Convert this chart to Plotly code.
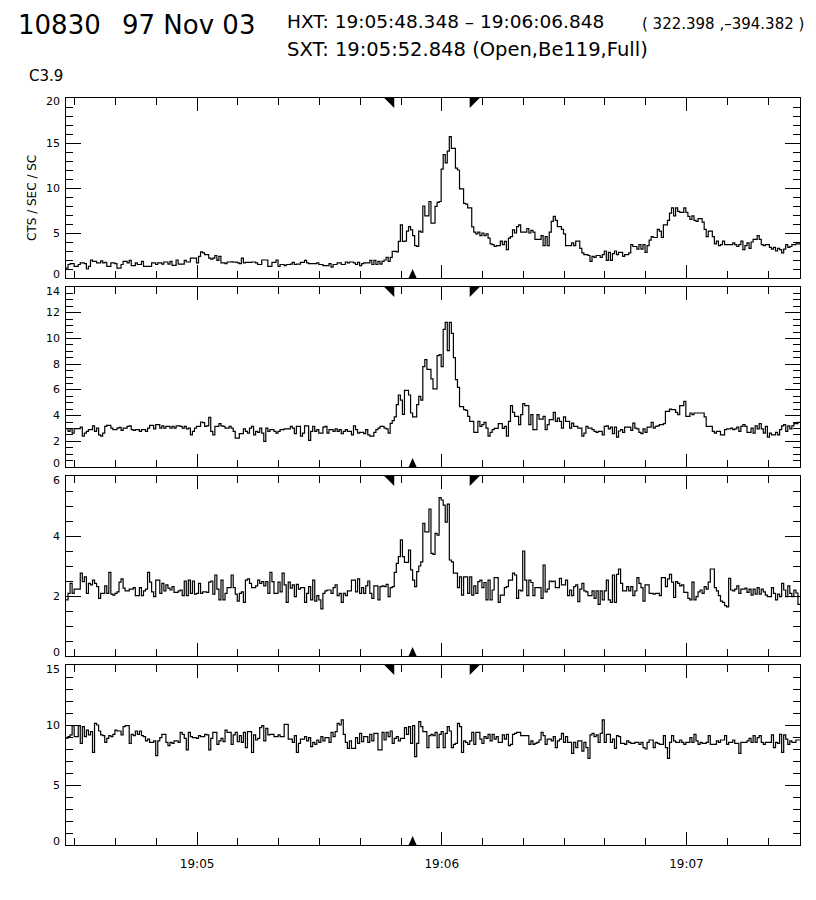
import plotly.graph_objects as go
import pandas as pd

# ---------------- data ----------------
START = "1997-11-03 19:04:27.848"
N_BINS = 360
BIN_MS = 500
HXT_START = "1997-11-03 19:05:48.348"
HXT_END = "1997-11-03 19:06:06.848"
SXT_TIME = "1997-11-03 19:05:52.848"

band1 = [
    1.1, 1.5, 1.6, 1.6, 1.3, 1.3, 1.5, 1.67, 1.67, 1.6,
    1.0, 1.3, 2.0, 1.85, 1.85, 1.67, 1.67, 1.9, 1.67, 1.75,
    1.3, 1.3, 1.67, 1.67, 1.6, 1.1, 1.1, 1.5, 1.85, 1.85,
    1.67, 1.96, 1.37, 1.37, 1.67, 1.5, 1.5, 1.85, 1.3, 1.3,
    1.3, 1.3, 1.67, 1.67, 1.5, 1.67, 1.67, 1.55, 1.78, 1.78,
    1.55, 1.85, 1.4, 1.4, 2.0, 1.55, 1.55, 1.55, 1.96, 1.78,
    1.78, 2.2, 2.2, 2.2, 1.67, 2.4, 2.9, 2.8, 2.6, 2.6,
    2.2, 2.1, 2.2, 2.5, 1.96, 2.4, 1.67, 1.67, 1.6, 1.78,
    1.78, 1.8, 1.75, 1.78, 1.67, 1.6, 2.2, 1.67, 1.74, 1.74,
    1.74, 1.78, 1.78, 1.67, 1.5, 1.5, 2.0, 2.0, 2.0, 1.3,
    1.3, 1.74, 1.74, 2.0, 1.3, 1.5, 1.5, 1.37, 1.5, 1.5,
    1.55, 1.74, 1.5, 1.55, 1.55, 1.74, 1.74, 1.96, 1.67, 1.6,
    1.6, 1.6, 1.6, 1.67, 1.5, 1.5, 1.37, 1.37, 1.37, 1.6,
    1.2, 1.5, 1.5, 1.67, 1.67, 1.5, 1.5, 1.78, 1.67, 1.78,
    1.78, 1.67, 1.5, 1.74, 1.37, 1.6, 1.67, 1.67, 1.67, 1.96,
    1.5, 1.96, 1.5, 1.85, 1.55, 1.85, 2.0, 2.3, 1.85, 2.3,
    2.96, 2.96, 2.9, 4.07, 5.9, 4.07, 4.1, 5.2, 5.7, 5.35,
    4.7, 3.6, 3.5, 5.2, 5.1, 8.0, 6.9, 6.9, 8.5, 6.1,
    6.1, 7.96, 8.4, 8.5, 12.1, 13.7, 12.8, 14.1, 15.7, 14.4,
    14.4, 12.2, 12.0, 9.9, 9.9, 8.3, 8.2, 7.8, 7.8, 5.67,
    5.1, 4.9, 5.1, 4.7, 5.0, 4.7, 4.9, 4.44, 3.8, 3.7,
    3.5, 3.6, 3.6, 4.1, 3.7, 4.07, 3.15, 4.44, 4.6, 5.35,
    5.0, 5.7, 5.9, 5.1, 5.1, 5.1, 5.5, 5.0, 5.3, 5.1,
    4.3, 4.3, 4.3, 4.7, 3.6, 4.6, 3.6, 5.1, 6.3, 6.85,
    6.4, 5.7, 5.7, 5.4, 4.9, 3.6, 3.6, 3.6, 3.9, 3.6,
    4.1, 4.1, 3.3, 2.8, 2.6, 2.6, 2.5, 1.85, 2.4, 2.3,
    2.5, 2.5, 2.3, 2.6, 3.0, 1.96, 2.85, 1.96, 2.7, 3.0,
    2.6, 2.85, 2.85, 2.4, 2.6, 2.6, 2.8, 3.7, 3.5, 3.5,
    3.2, 3.7, 3.2, 3.7, 2.85, 3.6, 4.2, 4.6, 4.5, 4.5,
    5.4, 5.2, 4.5, 5.9, 5.9, 6.4, 7.2, 7.8, 6.9, 7.8,
    7.4, 7.3, 7.3, 7.8, 7.3, 6.85, 6.5, 6.9, 6.4, 6.3,
    6.6, 6.6, 6.2, 5.4, 4.6, 5.2, 5.2, 4.6, 3.8, 4.1,
    3.6, 3.7, 4.1, 3.7, 3.7, 3.7, 3.7, 3.9, 3.7, 3.5,
    3.7, 4.1, 3.15, 3.6, 3.9, 3.3, 4.0, 4.3, 4.3, 4.7,
    4.3, 3.7, 3.6, 3.7, 3.7, 3.4, 3.2, 3.4, 3.0, 3.3,
    3.15, 2.8, 3.2, 3.7, 3.4, 3.5, 3.7, 3.7, 3.8, 3.8,
]

band2 = [
    2.98, 2.77, 2.98, 2.64, 2.98, 2.98, 2.98, 3.1, 2.4, 2.64,
    2.77, 2.9, 2.9, 3.2, 2.77, 3.03, 2.5, 2.4, 2.64, 3.16,
    3.24, 3.24, 3.03, 2.9, 2.9, 3.03, 3.08, 2.85, 3.03, 3.03,
    3.16, 3.2, 2.9, 2.85, 2.9, 2.9, 2.77, 2.9, 2.9, 2.77,
    3.03, 3.24, 3.24, 2.96, 3.3, 3.3, 3.03, 3.2, 3.03, 3.16,
    3.16, 3.03, 3.16, 3.03, 3.2, 3.2, 3.16, 3.03, 3.16, 2.96,
    3.03, 2.5, 2.77, 3.03, 3.16, 3.16, 3.5, 3.45, 3.16, 3.2,
    3.86, 2.77, 2.5, 3.16, 3.16, 3.37, 3.2, 3.16, 3.03, 3.03,
    3.16, 3.03, 2.77, 2.25, 2.25, 2.6, 2.6, 2.96, 2.77, 2.64,
    3.03, 3.16, 2.5, 2.77, 2.7, 3.03, 2.64, 2.0, 3.03, 2.77,
    2.9, 2.9, 2.77, 2.64, 2.77, 2.9, 2.9, 2.96, 2.96, 2.96,
    3.16, 3.03, 2.6, 3.16, 3.16, 2.4, 2.64, 3.2, 3.2, 2.07,
    2.77, 3.16, 2.77, 2.9, 2.64, 2.64, 3.1, 3.16, 2.64, 2.9,
    2.9, 2.77, 2.96, 2.77, 2.9, 2.6, 2.77, 2.9, 2.77, 2.77,
    2.5, 3.2, 2.9, 2.64, 2.7, 2.7, 2.6, 2.9, 2.5, 2.4,
    2.4, 2.7, 2.9, 3.03, 3.16, 3.16, 3.03, 2.96, 2.64, 3.4,
    3.6, 3.9, 4.85, 5.6, 5.2, 4.1, 5.96, 5.96, 5.6, 4.2,
    3.9, 3.9, 4.85, 5.5, 5.2, 7.8, 8.35, 7.6, 7.6, 6.85,
    6.07, 6.07, 8.66, 8.74, 7.8, 10.7, 11.25, 9.05, 11.25, 10.4,
    8.5, 6.8, 6.2, 4.7, 4.7, 4.46, 4.4, 3.94, 3.55, 3.55,
    2.7, 2.7, 3.55, 3.16, 3.3, 3.47, 3.03, 2.4, 2.7, 2.9,
    3.0, 3.0, 3.37, 3.37, 3.0, 3.16, 2.4, 3.55, 4.77, 4.25,
    3.94, 3.94, 3.3, 4.07, 4.93, 4.77, 4.77, 3.3, 4.07, 2.9,
    2.9, 4.07, 3.73, 3.73, 3.94, 2.9, 3.3, 3.68, 3.68, 4.25,
    3.55, 3.8, 3.55, 3.03, 3.9, 3.55, 3.55, 3.03, 3.42, 3.16,
    3.16, 3.03, 3.03, 2.4, 2.64, 3.16, 3.03, 3.03, 2.9, 2.77,
    2.7, 2.77, 2.77, 2.5, 3.16, 3.2, 2.96, 3.1, 2.6, 3.1,
    2.33, 2.8, 2.9, 2.7, 3.1, 3.1, 3.1, 2.85, 3.42, 3.03,
    2.96, 2.7, 2.6, 2.96, 2.7, 3.1, 3.1, 3.47, 3.03, 3.16,
    3.2, 3.3, 3.3, 3.37, 4.33, 4.33, 4.5, 4.46, 4.46, 4.25,
    4.07, 4.77, 4.77, 5.1, 3.94, 3.94, 4.2, 4.07, 4.2, 4.2,
    4.2, 4.2, 4.2, 3.9, 3.16, 3.16, 3.16, 2.77, 2.64, 2.77,
    2.77, 2.5, 2.5, 2.9, 2.96, 2.96, 3.03, 2.9, 2.96, 3.1,
    2.77, 3.16, 3.3, 3.16, 2.7, 2.7, 3.03, 2.64, 3.2, 2.96,
    3.37, 2.96, 2.64, 3.16, 2.33, 2.64, 2.5, 2.5, 2.7, 2.5,
    2.9, 3.2, 3.3, 2.77, 3.2, 2.96, 3.2, 3.37, 3.37, 3.47,
]

band3 = [
    1.87, 2.09, 2.42, 2.09, 2.23, 2.23, 2.23, 2.76, 2.48, 2.64,
    2.09, 2.42, 2.37, 2.53, 2.42, 2.31, 1.92, 2.09, 2.09, 2.34,
    2.09, 2.79, 2.06, 2.03, 2.09, 2.14, 2.46, 2.57, 2.26, 2.17,
    2.17, 2.23, 2.23, 2.28, 2.01, 2.01, 2.28, 2.01, 2.17, 2.23,
    2.79, 2.46, 2.14, 1.98, 2.53, 2.53, 2.09, 2.42, 2.17, 2.37,
    2.26, 2.2, 2.31, 2.12, 2.12, 2.17, 2.2, 2.01, 2.5, 2.01,
    2.53, 2.09, 2.5, 2.06, 2.09, 2.42, 2.09, 2.14, 2.14, 2.12,
    2.46, 2.5, 2.06, 2.7, 2.23, 1.87, 2.53, 1.87, 2.09, 2.28,
    2.28, 2.7, 2.28, 2.06, 1.83, 2.09, 2.14, 1.79, 2.53, 2.57,
    2.42, 2.28, 2.28, 2.34, 2.53, 2.42, 2.48, 2.34, 2.48, 2.09,
    2.79, 2.48, 2.09, 2.09, 2.46, 2.14, 2.76, 2.37, 1.79, 2.46,
    2.26, 2.37, 1.98, 2.39, 2.23, 2.28, 2.28, 1.79, 2.09, 2.31,
    1.87, 2.53, 1.83, 2.01, 1.87, 1.57, 2.09, 2.17, 2.2, 2.2,
    2.09, 2.28, 2.37, 2.01, 2.09, 1.79, 2.09, 2.01, 2.17, 2.17,
    2.53, 2.53, 2.14, 2.57, 2.09, 2.28, 2.09, 2.34, 2.5, 2.09,
    1.92, 2.34, 2.34, 1.87, 2.31, 2.34, 2.31, 2.39, 1.98, 2.28,
    2.31, 2.79, 3.09, 3.31, 3.87, 3.31, 3.12, 3.12, 3.53, 2.87,
    2.53, 2.31, 2.81, 3.0, 3.14, 4.42, 4.14, 4.14, 4.9, 3.42,
    3.39, 4.09, 4.03, 5.28, 5.2, 5.03, 4.46, 5.06, 3.2, 3.14,
    2.76, 2.76, 2.28, 2.64, 2.03, 2.64, 2.64, 2.09, 2.64, 2.03,
    2.34, 2.09, 2.48, 2.53, 2.28, 2.45, 1.87, 2.53, 1.87, 2.2,
    2.61, 2.61, 1.79, 2.03, 2.03, 2.28, 2.31, 2.53, 2.53, 2.76,
    2.7, 1.92, 2.2, 2.17, 3.5, 2.53, 2.01, 2.53, 2.45, 2.01,
    2.28, 2.28, 2.28, 1.92, 3.03, 2.14, 2.23, 2.5, 2.48, 2.5,
    2.28, 2.28, 2.59, 2.37, 2.37, 2.53, 2.01, 2.2, 2.01, 2.31,
    2.37, 1.81, 2.23, 2.42, 2.17, 2.14, 2.01, 2.01, 2.17, 1.92,
    2.17, 1.72, 2.17, 1.87, 2.17, 2.53, 1.87, 1.79, 2.7, 1.79,
    2.72, 2.9, 2.42, 2.17, 2.17, 2.31, 2.17, 2.31, 2.01, 2.17,
    2.61, 2.42, 2.28, 1.83, 2.37, 2.37, 2.09, 2.09, 2.06, 2.09,
    2.09, 2.01, 2.61, 2.61, 2.31, 2.57, 2.72, 2.46, 1.95, 2.48,
    2.42, 2.34, 2.37, 2.12, 2.12, 1.92, 1.87, 2.46, 1.87, 1.98,
    2.14, 2.2, 2.09, 2.31, 2.23, 2.46, 2.9, 2.9, 2.28, 2.17,
    2.01, 1.83, 1.79, 1.68, 1.64, 2.59, 2.2, 2.17, 2.23, 2.34,
    2.09, 2.23, 2.23, 2.26, 2.12, 2.23, 2.03, 2.23, 2.06, 2.28,
    2.06, 2.23, 2.14, 2.03, 1.98, 1.98, 2.28, 2.09, 1.87, 2.06,
    1.98, 2.42, 2.2, 1.98, 2.34, 2.09, 1.98, 2.2, 2.1, 1.72,
]

band4 = [
    8.9, 9.03, 9.17, 9.94, 9.03, 9.03, 9.94, 8.47, 9.86, 9.03,
    9.58, 9.17, 9.44, 7.72, 10.14, 10.0, 9.5, 9.17, 9.11, 8.56,
    8.89, 9.11, 9.03, 9.22, 9.58, 9.5, 9.5, 9.17, 9.86, 9.94,
    9.94, 8.47, 9.22, 9.11, 9.5, 9.22, 9.5, 9.11, 9.03, 8.67,
    8.83, 8.56, 8.56, 8.67, 7.44, 8.67, 8.94, 9.22, 9.22, 8.56,
    8.28, 8.56, 8.47, 8.67, 8.67, 8.56, 9.39, 9.22, 8.89, 7.92,
    9.39, 9.03, 8.94, 8.94, 8.89, 9.11, 9.03, 9.03, 9.22, 9.17,
    7.92, 8.89, 9.39, 9.39, 8.39, 8.67, 8.89, 8.61, 9.58, 9.39,
    9.39, 8.39, 9.17, 9.39, 8.61, 9.11, 8.56, 9.39, 8.11, 9.44,
    9.44, 7.72, 9.17, 8.75, 8.89, 9.78, 9.94, 8.67, 9.72, 9.17,
    9.22, 9.22, 9.03, 9.03, 9.17, 9.03, 9.03, 10.06, 10.06, 8.83,
    8.83, 8.56, 9.11, 7.72, 8.47, 8.83, 8.83, 9.03, 8.67, 8.94,
    8.19, 8.56, 8.39, 8.75, 8.56, 9.03, 8.67, 8.94, 8.94, 8.56,
    9.39, 9.03, 9.44, 10.14, 10.0, 10.42, 9.22, 8.56, 8.06, 8.67,
    8.06, 8.06, 8.94, 8.47, 9.31, 8.61, 9.03, 9.03, 8.56, 9.22,
    8.67, 9.31, 9.31, 7.92, 7.92, 9.39, 8.75, 9.39, 9.03, 9.5,
    8.47, 8.89, 9.03, 8.67, 8.89, 8.89, 9.78, 9.22, 9.86, 8.47,
    9.94, 7.36, 8.47, 10.28, 9.86, 9.44, 9.44, 8.11, 9.11, 9.22,
    9.11, 9.39, 8.11, 9.22, 9.44, 8.11, 9.31, 9.86, 9.5, 8.11,
    8.39, 8.47, 10.14, 9.86, 7.72, 8.67, 8.56, 8.39, 8.67, 9.39,
    8.39, 9.39, 9.39, 8.83, 8.47, 9.03, 8.89, 9.22, 8.67, 9.22,
    8.83, 9.03, 8.56, 8.56, 9.17, 8.83, 9.22, 8.28, 8.39, 9.22,
    9.31, 9.39, 9.39, 9.11, 9.11, 9.11, 9.11, 8.39, 8.67, 8.39,
    8.47, 8.56, 8.75, 9.39, 9.11, 8.39, 8.83, 8.83, 8.67, 9.03,
    8.11, 8.67, 8.83, 9.31, 8.56, 9.03, 8.56, 8.56, 7.64, 8.56,
    8.11, 8.67, 8.67, 7.83, 8.56, 8.11, 7.22, 9.17, 9.31, 9.03,
    9.17, 8.56, 9.31, 10.42, 8.56, 9.22, 9.22, 8.56, 8.83, 8.06,
    9.11, 9.03, 8.47, 8.47, 8.39, 8.67, 8.56, 8.47, 8.47, 8.56,
    8.56, 8.39, 8.56, 8.11, 8.0, 8.56, 8.75, 8.75, 8.11, 8.56,
    8.47, 8.39, 8.39, 9.11, 8.11, 7.22, 8.56, 9.11, 8.67, 8.56,
    8.56, 8.75, 8.56, 8.39, 8.56, 8.56, 8.94, 8.56, 9.22, 8.67,
    8.39, 8.56, 8.47, 8.47, 8.56, 9.11, 8.39, 8.39, 8.39, 8.67,
    8.56, 8.75, 8.75, 9.11, 8.39, 8.56, 8.56, 8.75, 8.47, 8.47,
    7.64, 8.56, 8.56, 8.56, 8.67, 8.89, 8.56, 9.11, 8.56, 8.94,
    9.11, 8.56, 8.39, 8.56, 8.56, 8.56, 9.17, 8.11, 8.56, 8.47,
    9.22, 7.72, 9.17, 8.83, 8.39, 8.67, 8.56, 8.56, 8.75, 8.75,
]

bands = [band1, band2, band3, band4]
y_ranges = [[0, 20], [0, 14], [0, 6], [0, 15]]
y_major = [5, 2, 2, 5]
y_minor = [1, 0.5, 0.5, 1]
y_tick_labels = [["0", "5", "10", "15", "20"],
                 ["0", "2", "4", "6", "8", "10", "12", "14"],
                 ["0", "2", "4", "6"],
                 ["0", "5", "10", "15"]]
x_tick_labels = ["19:05", "19:06", "19:07"]

for b in bands:
    assert len(b) == N_BINS, len(b)

# ---------------- figure ----------------
W, H = 816, 900
# the page body adds an 8px margin around the figure; compensate so the
# picture lands where the reference has it
OX, OY = 8, 8
FONT = "DejaVu Sans"
PLOT_L, PLOT_R = 66 - OX, 800 - OX
PANELS_PX = [(98, 278), (287, 467), (476, 656), (665, 845)]
PANELS_PX = [(a - OY, b - OY) for a, b in PANELS_PX]

times = pd.date_range(START, periods=N_BINS + 1, freq=f"{BIN_MS}ms")
t_end = times[-1]

fig = go.Figure()
layout = dict(
    width=W, height=H, margin=dict(l=0, r=0, t=0, b=0, autoexpand=False),
    paper_bgcolor="white", plot_bgcolor="white", showlegend=False,
    font=dict(family=FONT, color="black"),
)


def ann(text, px, py, size, anchor="left", angle=0, **kw):
    d = dict(text=text, x=(px - OX) / W, y=1 - (py - OY) / H,
             xref="paper", yref="paper",
             xanchor=anchor, yanchor="middle", showarrow=False,
             textangle=angle, font=dict(size=size, family=FONT, color="black"))
    d.update(kw)
    return d


annotations = []
shapes = []
for k, (vals, (ptop, pbot)) in enumerate(zip(bands, PANELS_PX), start=1):
    sfx = "" if k == 1 else str(k)
    fig.add_trace(go.Scatter(
        x=times, y=list(vals) + [vals[-1]], mode="lines",
        line=dict(shape="hv", color="black", width=1.2),
        xaxis=f"x{sfx}", yaxis=f"y{sfx}", hoverinfo="skip",
    ))
    layout[f"xaxis{sfx}"] = dict(
        domain=[PLOT_L / W, PLOT_R / W], anchor=f"y{sfx}", type="date",
        automargin=False,
        range=[times[0], t_end], showline=True, mirror="allticks",
        linecolor="black", linewidth=1, showgrid=False, zeroline=False,
        ticks="inside", ticklen=13, tickwidth=1, tickcolor="black",
        tickmode="array",
        tickvals=[f"1997-11-03 {s}:00" for s in x_tick_labels],
        ticktext=x_tick_labels,
        showticklabels=(k == 4), ticklabelstandoff=8,
        tickfont=dict(size=12, family=FONT, color="black"),
        minor=dict(dtick=10000, tick0="1997-11-03 19:00:00", ticks="inside",
                   ticklen=7, tickwidth=1, tickcolor="black", showgrid=False),
    )
    layout[f"yaxis{sfx}"] = dict(
        domain=[1 - pbot / H, 1 - ptop / H], anchor=f"x{sfx}",
        automargin=False,
        range=y_ranges[k - 1], tick0=0, dtick=y_major[k - 1],
        showline=True, mirror="allticks", linecolor="black", linewidth=1,
        showgrid=False, zeroline=False, showticklabels=False,
        ticks="inside", ticklen=15, tickwidth=1, tickcolor="black",
        minor=dict(dtick=y_minor[k - 1], tick0=0, ticks="inside", ticklen=7,
                   tickwidth=1, tickcolor="black", showgrid=False),
    )
    # y tick labels (IDL style: end labels nudged inward)
    labels = y_tick_labels[k - 1]
    for j, lab in enumerate(labels):
        shift = 4 if j == 0 else (-4 if j == len(labels) - 1 else 0)
        annotations.append(dict(
            text=lab, x=(PLOT_L - 4) / W, xref="paper", y=float(lab),
            yref=f"y{sfx}", xanchor="right", yanchor="middle", yshift=shift,
            showarrow=False, font=dict(size=11, family=FONT, color="black")))
    # HXT interval markers (top) and SXT time marker (bottom)
    common = dict(type="path", xref=f"x{sfx}", yref=f"y{sfx} domain",
                  xsizemode="pixel", ysizemode="pixel",
                  fillcolor="black", line=dict(width=0), layer="above")
    shapes.append(dict(common, xanchor=HXT_START, yanchor=1,
                       path="M -10,0 L 0,0 L 0,-10 Z"))
    shapes.append(dict(common, xanchor=HXT_END, yanchor=1,
                       path="M 0,0 L 10,0 L 0,-10 Z"))
    shapes.append(dict(common, xanchor=SXT_TIME, yanchor=0,
                       path="M -4,0 L 4,0 L 0,9 Z"))

layout["shapes"] = shapes

annotations += [
    ann("10830", 16, 25, 26),
    ann("97 Nov 03", 120, 25, 26),
    ann("HXT: 19:05:48.348 \u2013 19:06:06.848", 285, 22, 18.5),
    ann("( 322.398 ,\u2013394.382 )", 806, 24, 15, anchor="right"),
    ann("SXT: 19:05:52.848 (Open,Be119,Full)", 285, 50, 19.5),
    ann("C3.9", 27, 76, 15),
    ann("CTS / SEC / SC", 32, 198, 12, anchor="center", angle=-90),
]
layout["annotations"] = annotations

fig.update_layout(**layout)
fig.write_html("out.html")
